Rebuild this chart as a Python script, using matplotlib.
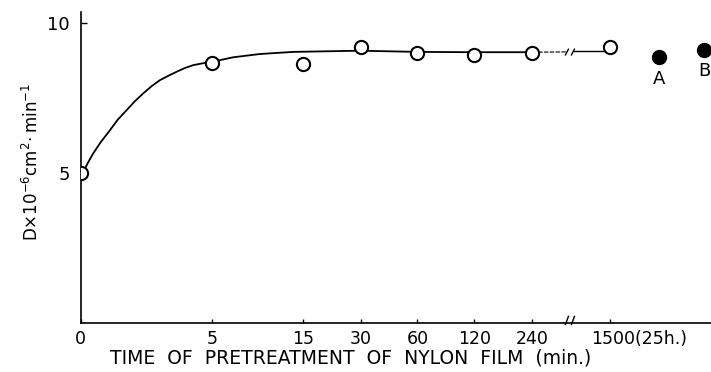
import matplotlib
matplotlib.use("Agg")
import matplotlib.pyplot as plt
import matplotlib.transforms as mtransforms

# pretreatment times (min) and measured D (x10^-6 cm^2/min)
times = ["0", "5", "15", "30", "60", "120", "240", "1500"]
d_open = [5.0, 8.68, 8.62, 9.19, 8.99, 8.93, 9.01, 9.21]

# reference samples A and B (filled)
ref_labels = ["A", "B"]
d_filled = [8.86, 9.12]

# hand-drawn trend curve, as (position, D)
curve_pos = [2, 7, 12.6, 20, 29.3, 37, 46, 54, 62.6, 71, 79.3, 88, 96, 104, 112.6, 122, 131.5,
             152.3, 179.3, 212.3, 279.3, 336.5, 393.5, 451.5]
curve_val = [4.99, 5.33, 5.66, 6.03, 6.43, 6.78, 7.10, 7.39, 7.66, 7.90, 8.10, 8.25, 8.38, 8.50, 8.60,
             8.66, 8.71, 8.86, 8.97, 9.04, 9.08, 9.04, 9.03, 9.03]
tail_val = [9.03, 9.04]
after_break_val = [9.07, 9.07]

# layout: position of each category along the (broken) x axis
tick_pos = [0, 131.5, 222, 280, 336.5, 393.5, 451.5, 529.5]
break_pos = 489
ref_pos = [578, 623.5]

fig = plt.figure(figsize=(7.11, 3.72), dpi=100)
ax = fig.add_axes([0.1135, 0.1317, 0.8865, 0.836])

ax.plot(curve_pos, curve_val, color="black", lw=1.3, zorder=2)
ax.plot([tick_pos[6], break_pos - 3], tail_val, color="black", lw=0.8, ls=(0, (4, 1.2)), zorder=2)
ax.plot([break_pos + 4, tick_pos[7]], after_break_val, color="black", lw=1.0, zorder=2)

ax.plot(tick_pos, d_open, ls="none", marker="o", ms=9.5, mfc="white", mec="black", mew=1.5, zorder=3)
ax.plot(ref_pos, d_filled, ls="none", marker="o", ms=10, mfc="black", mec="black", clip_on=False, zorder=3)
for x, y, lab in zip(ref_pos, d_filled, ref_labels):
    ax.text(x, y - 0.42, lab, ha="center", va="top", fontsize=13)

# break marks on the curve and on the x axis
for dx in (-3, 3):
    ax.plot([break_pos + dx - 1.5, break_pos + dx + 1.5], [8.94, 9.13], color="black", lw=1.0)
    ax.plot([break_pos + dx - 1.5, break_pos + dx + 1.5], [-0.05, 0.22], color="black", lw=1.0, clip_on=False)

ax.set_xlim(0, 630)
ax.set_ylim(0, 10.37)
ax.set_xticks(tick_pos)
ax.set_xticklabels(times[:-1] + ["1500(25h.)"])
ax.set_yticks([5, 10])
ax.set_yticklabels(["5", "10"])
ax.tick_params(axis="x", direction="in", length=3, width=1, pad=5, labelsize=12.5)
ax.tick_params(axis="y", direction="in", length=4, width=1, pad=8, labelsize=13)

last = ax.get_xticklabels()[-1]
last.set_horizontalalignment("left")
last.set_transform(last.get_transform() + mtransforms.ScaledTranslation(-0.19, 0, fig.dpi_scale_trans))

for side in ("top", "right"):
    ax.spines[side].set_visible(False)
for side in ("left", "bottom"):
    ax.spines[side].set_linewidth(1.2)

ax.set_xlabel("TIME  OF  PRETREATMENT  OF  NYLON  FILM  (min.)", fontsize=13.5)
ax.xaxis.set_label_coords(0.429, -0.083)
fig.text(0.045, 1 - 162 / 372, r"D$\times$10$^{-6}$cm$^{2}\!\cdot$min$^{-1}$",
         rotation=90, ha="center", va="center", fontsize=12)

fig.savefig("out.png", dpi=100)
